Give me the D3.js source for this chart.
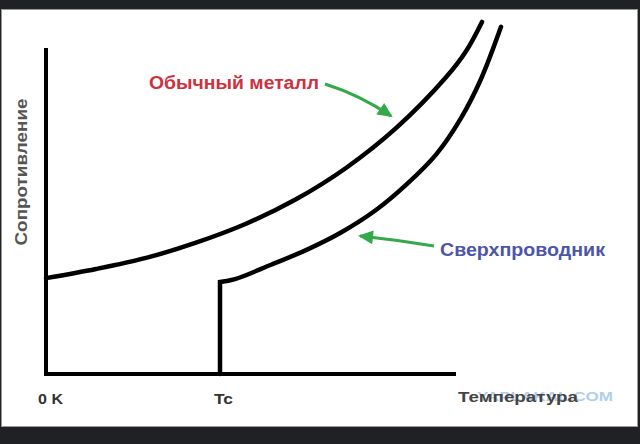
<!DOCTYPE html>
<html>
<head>
<meta charset="utf-8">
<script src="https://cdn.jsdelivr.net/npm/d3@7"></script>
<style>
  html, body { margin: 0; padding: 0; background: #202124; }
  svg { display: block; }
</style>
</head>
<body>
<svg id="chart" width="640" height="444"></svg>
<script>
// ---- data (arbitrary units: temperature 0..100, resistance 0..100) ----
const metalT = [0, 10, 20, 30, 40, 50, 60, 70, 80, 84, 87.2];
const metalR = [29.4, 32.2, 35.6, 40.3, 46.1, 53.6, 63.2, 75.4, 91.0, 99.0, 108.0];
const Tc = 34.8;
const scT = [34.8, 37.8, 45, 52, 59, 66, 72, 78, 83, 87, 91.0];
const scR = [28.2, 29.1, 33.5, 38.0, 43.4, 50.3, 58.0, 67.3, 78.5, 90.5, 106.5];
const tickLabels = ["0 K", "Tc", "Температура"];
const yAxisLabel = "Сопротивление";
const seriesLabels = ["Обычный металл", "Сверхпроводник"];
const watermark = "YAPLAKAL.COM";

const svg = d3.select("#chart");
const x = d3.scaleLinear().domain([0, 100]).range([46, 546]);
const y = d3.scaleLinear().domain([0, 100]).range([374, 48]);

// panel
svg.append("rect").attr("x", 1.5).attr("y", 9.5).attr("width", 636).attr("height", 417)
  .attr("fill", "#ffffff").attr("stroke", "#9a9a9a").attr("stroke-width", 1);

// axes
svg.append("path")
  .attr("d", `M${x(0)},${y(100)} L${x(0)},${y(0)} L${x(82)},${y(0)}`)
  .attr("fill", "none").attr("stroke", "#000").attr("stroke-width", 4)
  .attr("stroke-linejoin", "miter");

const line = d3.line().x(d => x(d[0])).y(d => y(d[1])).curve(d3.curveCatmullRom.alpha(0.5));

// normal metal
svg.append("path")
  .attr("d", line(d3.zip(metalT, metalR)))
  .attr("fill", "none").attr("stroke", "#000").attr("stroke-width", 4.5)
  .attr("stroke-linecap", "round");

// superconductor
const scPath = `M${x(Tc)},${y(0)} ` + line(d3.zip(scT, scR)).replace(/^M/, "L");
svg.append("path")
  .attr("d", scPath)
  .attr("fill", "none").attr("stroke", "#000").attr("stroke-width", 4.5)
  .attr("stroke-linejoin", "miter").attr("stroke-linecap", "round");

// arrows
const green = "#35a84a";
function arrow(x0, y0, cx, cy, x1, y1) {
  svg.append("path")
    .attr("d", `M${x0},${y0} Q${cx},${cy} ${x1},${y1}`)
    .attr("fill", "none").attr("stroke", green).attr("stroke-width", 3);
  const ang = Math.atan2(y1 - cy, x1 - cx);
  const L = 15, W = 7;
  const bx = x1 + Math.cos(ang) * 2, by = y1 + Math.sin(ang) * 2;
  const p1 = [bx - L * Math.cos(ang) + W * Math.sin(ang), by - L * Math.sin(ang) - W * Math.cos(ang)];
  const p2 = [bx - L * Math.cos(ang) - W * Math.sin(ang), by - L * Math.sin(ang) + W * Math.cos(ang)];
  svg.append("path").attr("d", `M${bx},${by} L${p1[0]},${p1[1]} L${p2[0]},${p2[1]} Z`).attr("fill", green);
}
arrow(325, 84, 360, 95, 391, 116);
arrow(434, 246, 398, 240, 360, 236);

// labels
const font = "'Liberation Sans', Arial, sans-serif";
svg.append("text").text(seriesLabels[0])
  .attr("x", 149).attr("y", 89).attr("font-family", font).attr("font-weight", "bold")
  .attr("font-size", 18).attr("fill", "#d0303e")
  .attr("textLength", 170).attr("lengthAdjust", "spacingAndGlyphs");
svg.append("text").text(seriesLabels[1])
  .attr("x", 440).attr("y", 256).attr("font-family", font).attr("font-weight", "bold")
  .attr("font-size", 18).attr("fill", "#4d55a8")
  .attr("textLength", 165).attr("lengthAdjust", "spacingAndGlyphs");

svg.append("text").text(yAxisLabel)
  .attr("transform", `translate(27,172) rotate(-90)`)
  .attr("text-anchor", "middle")
  .attr("font-family", font).attr("font-weight", "bold")
  .attr("font-size", 16).attr("fill", "#555")
  .attr("textLength", 147).attr("lengthAdjust", "spacingAndGlyphs");

svg.append("text").text(tickLabels[0])
  .attr("x", x(0) - 8).attr("y", 404).attr("font-family", font).attr("font-weight", "bold")
  .attr("font-size", 14).attr("fill", "#333")
  .attr("textLength", 25).attr("lengthAdjust", "spacingAndGlyphs");
svg.append("text").text(tickLabels[1])
  .attr("x", x(Tc) - 6).attr("y", 404).attr("font-family", font).attr("font-weight", "bold")
  .attr("font-size", 14).attr("fill", "#333")
  .attr("textLength", 19).attr("lengthAdjust", "spacingAndGlyphs");

svg.append("text").text(watermark)
  .attr("x", 477).attr("y", 401).attr("font-family", font).attr("font-weight", "bold")
  .attr("font-size", 13).attr("fill", "#a3c6e6").attr("opacity", 0.85)
  .attr("textLength", 136).attr("lengthAdjust", "spacingAndGlyphs");
svg.append("text").text(tickLabels[2])
  .attr("x", 458).attr("y", 402).attr("font-family", font).attr("font-weight", "bold")
  .attr("font-size", 15).attr("fill", "#444")
  .attr("textLength", 120).attr("lengthAdjust", "spacingAndGlyphs");
</script>
</body>
</html>
